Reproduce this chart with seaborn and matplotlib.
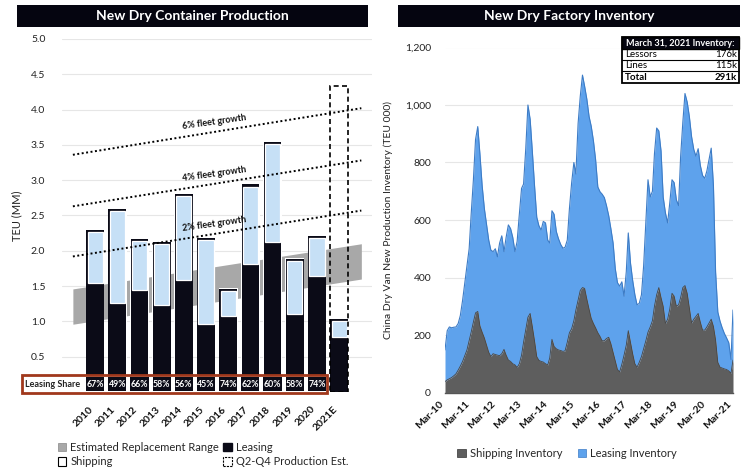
import numpy as np
import pandas as pd
import matplotlib
matplotlib.use("Agg")
import matplotlib.pyplot as plt
import seaborn as sns
from matplotlib.patches import Rectangle, Patch
from matplotlib.ticker import FuncFormatter

# ---------------- data: left chart ----------------
years = ['2010', '2011', '2012', '2013', '2014', '2015', '2016', '2017',
         '2018', '2019', '2020', '2021E']
total_prod = [2.30, 2.59, 2.17, 2.12, 2.81, 2.18, 1.46, 2.94, 3.54, 1.88, 2.21, 1.04]
leasing_prod = [1.54, 1.26, 1.44, 1.23, 1.59, 0.97, 1.08, 1.81, 2.12, 1.10, 1.64, 0.78]
leasing_share = ['67%', '49%', '66%', '58%', '56%', '45%', '74%', '62%', '60%',
                 '58%', '74%']
est_2021_full = 4.33
band_x = [-1, 12]
band_low = [0.96, 1.60]
band_high = [1.46, 2.10]
growth_labels = ['6% fleet growth', '4% fleet growth', '2% fleet growth']
growth_start = [3.36, 2.63, 1.92]
growth_end = [4.02, 3.28, 2.57]

# ---------------- data: right chart (monthly, Mar-10 .. Mar-21, TEU 000) ----------------
shipping_inv = [38, 44, 48, 52, 58, 65, 78, 92, 108, 128, 148, 180, 210, 245, 277, 282,
                232, 210, 190, 165, 140, 125, 135, 132, 130, 128, 135, 150, 130, 113,
                108, 100, 96, 87, 100, 130, 175, 220, 262, 275, 230, 180, 125, 112,
                108, 106, 100, 96, 120, 185, 160, 152, 148, 146, 143, 145, 175, 208,
                222, 250, 287, 322, 355, 365, 362, 325, 290, 258, 240, 225, 208, 195,
                180, 180, 188, 192, 170, 140, 110, 80, 72, 98, 130, 165, 215, 175,
                135, 100, 88, 105, 125, 152, 180, 210, 228, 250, 300, 340, 365, 330,
                300, 240, 255, 290, 345, 335, 300, 305, 330, 365, 372, 345, 295, 242,
                255, 265, 275, 245, 217, 217, 228, 242, 255, 230, 183, 105, 88, 85,
                82, 80, 75, 67, 113]
total_inv = [148, 215, 228, 225, 227, 228, 240, 268, 320, 380, 440, 500, 620, 739, 880,
             925, 830, 720, 640, 585, 530, 495, 490, 500, 472, 520, 545, 490, 540, 583,
             570, 540, 490, 525, 620, 710, 725, 850, 1000, 950, 840, 720, 610, 580,
             565, 595, 590, 530, 520, 632, 620, 560, 535, 515, 502, 505, 530, 640,
             730, 800, 760, 936, 1030, 1104, 1065, 1020, 960, 926, 875, 810, 715,
             698, 690, 678, 650, 615, 570, 520, 430, 382, 370, 385, 335, 420, 555,
             450, 390, 340, 305, 310, 340, 440, 590, 740, 680, 700, 830, 920, 910,
             840, 680, 625, 590, 660, 740, 730, 670, 650, 820, 940, 1040, 1010, 960,
             890, 845, 822, 848, 790, 755, 745, 770, 810, 850, 720, 420, 280, 248,
             225, 205, 190, 173, 115, 287]
inv_title = 'March 31, 2021 Inventory:'
inv_labels = ['Lessors', 'Lines', 'Total']
inv_values = ['176k', '115k', '291k']

# ---------------- style ----------------
sns.set_theme(style="white")
plt.rcParams['font.family'] = ['Lato', 'DejaVu Sans']
plt.rcParams['patch.force_edgecolor'] = False

W, H = 750, 469
fig = plt.figure(figsize=(W / 100, H / 100), dpi=100)
fig.patch.set_facecolor('white')


def fx(px):
    return px / W


def fy(py):
    return 1 - py / H


def fig_rect(x0, y0, x1, y1, **kw):
    r = Rectangle((fx(x0), fy(y1)), fx(x1) - fx(x0), fy(y0) - fy(y1),
                  transform=fig.transFigure, **kw)
    fig.add_artist(r)
    return r


NAVY = '#0b0b17'
LBLUE = '#c6e0f6'
GRAYBAND = '#a8a8a8'

# ---------------- titles ----------------
fig_rect(17, 5, 368, 27, facecolor='#050510', edgecolor='none')
fig.text(fx(192), fy(16), 'New Dry Container Production', color='white',
         fontsize=10, fontweight='bold', ha='center', va='center')
fig_rect(398, 5, 740, 27, facecolor='#050510', edgecolor='none')
fig.text(fx(569), fy(16), 'New Dry Factory Inventory', color='white',
         fontsize=10, fontweight='bold', ha='center', va='center')

# ---------------- left chart ----------------
ax1 = fig.add_axes([fx(62), fy(392), fx(372) - fx(62), fy(39) - fy(392)])
xpos = np.arange(len(years))
tp = np.array(total_prod)
lp = np.array(leasing_prod)

sns.barplot(x=years, y=total_prod, color=NAVY, width=0.80, saturation=1,
            linewidth=0, ax=ax1, zorder=3)
ax1.bar(xpos, tp + 0.02, width=0.85, color='white', linewidth=0, zorder=2)
ax1.bar(xpos, tp - lp - 0.03, bottom=lp, width=0.68, color=LBLUE,
        edgecolor='white', linewidth=0.9, zorder=4)
ax1.bar([xpos[-1]], [est_2021_full], width=0.8, fill=False, edgecolor='black',
        linestyle=(0, (3, 2)), linewidth=1.2, zorder=6)

ax1.fill_between(band_x, band_low, band_high, color=GRAYBAND, lw=0, zorder=1)

for lab, s, e in zip(growth_labels, growth_start, growth_end):
    ax1.plot(band_x, [s, e], linestyle=(0, (1, 1.3)), color='black', lw=1.4,
             zorder=7)
    xl = 5.36
    yl = s + (e - s) * (xl - band_x[0]) / (band_x[1] - band_x[0])
    ax1.annotate(lab, xy=(xl, yl), xytext=(0, 7), textcoords='offset points',
                 ha='center', va='center', rotation=8, fontsize=6.5,
                 fontweight='bold', color='#111111', zorder=8)

# leasing share strip
ax1.add_patch(Rectangle((-3.29, -0.015), 13.74, 0.255, facecolor='white',
                        edgecolor='#a0381c', lw=2, clip_on=False, zorder=9))
ax1.text(-1.9, 0.112, 'Leasing Share', ha='center', va='center', fontsize=6.5,
         fontweight='bold', color='#222222', clip_on=False, zorder=10)
for i, s in enumerate(leasing_share):
    ax1.add_patch(Rectangle((i - 0.41, 0.012), 0.82, 0.2, facecolor=NAVY,
                            edgecolor='none', clip_on=False, zorder=10))
    ax1.text(i, 0.112, s, ha='center', va='center', fontsize=6.3,
             fontweight='bold', color='white', clip_on=False, zorder=11)

ax1.set_xlim(-1.49, 12.48)
ax1.set_ylim(0, 5.0)
ax1.set_yticks(np.arange(0.5, 5.01, 0.5))
ax1.yaxis.set_major_formatter(FuncFormatter(lambda v, p: f'{v:.1f}'))
ax1.grid(axis='y', color='#e6e6e6', lw=0.8, zorder=0)
ax1.set_axisbelow(True)
for sp in ax1.spines.values():
    sp.set_visible(False)
ax1.tick_params(axis='y', length=0, pad=12, labelsize=7.5, labelcolor='#222222')
ax1.tick_params(axis='x', length=0, pad=9, labelsize=7.5, labelcolor='#111111')
ax1.set_xticks(xpos)
ax1.set_xticklabels(years, rotation=45, ha='right', fontweight='bold')
ax1.set_xlabel('')
ax1.set_ylabel('TEU (MM)', fontsize=8, color='#222222')
ax1.yaxis.set_label_coords((22 - 62) / 310, 0.5)

handles1 = [Patch(facecolor=GRAYBAND, edgecolor='#888888', lw=0.5),
            Patch(facecolor='white', edgecolor='black', lw=0.8),
            Patch(facecolor=NAVY, edgecolor=NAVY),
            Patch(facecolor='white', edgecolor='black', lw=0.8, linestyle=(0, (2, 1)))]
labels1 = ['Estimated Replacement Range', 'Shipping', 'Leasing',
           'Q2-Q4 Production Est.']
fig.legend(handles1, labels1, loc='upper left', bbox_to_anchor=(fx(58), fy(442)),
           ncol=2, frameon=False, fontsize=8, handlelength=0.75,
           handleheight=0.75, handletextpad=0.35, columnspacing=0.4,
           labelspacing=0.3, borderpad=0, borderaxespad=0)

# ---------------- right chart ----------------
ax2 = fig.add_axes([fx(445), fy(392.5), fx(733) - fx(445), fy(47.5) - fy(392.5)])
dates = pd.date_range('2010-03-01', periods=len(total_inv), freq='MS')
ship = np.array(shipping_inv)
tot = np.array(total_inv)
ax2.fill_between(dates, ship, tot, color='#5ea2ec', lw=0, zorder=2)
ax2.fill_between(dates, 0, ship, color='#5e5e5e', lw=0, zorder=3)
sns.lineplot(x=dates, y=tot, color='#3d7cc6', lw=0.8, ax=ax2, zorder=4)
sns.lineplot(x=dates, y=ship, color='#474747', lw=0.6, ax=ax2, zorder=4)

ax2.set_xlim(dates[0], dates[-1])
ax2.set_ylim(0, 1200)
ax2.set_yticks(np.arange(0, 1201, 200))
ax2.yaxis.set_major_formatter(FuncFormatter(lambda v, p: f'{int(v):,}'))
tick_dates = pd.date_range('2010-03-01', '2021-03-01', freq='12MS')
ax2.set_xticks(tick_dates)
ax2.set_xticklabels([d.strftime('%b-%y') for d in tick_dates], rotation=45,
                    ha='right', fontweight='bold')
ax2.grid(axis='y', color='#e6e6e6', lw=0.8, zorder=0)
ax2.set_axisbelow(True)
for k, sp in ax2.spines.items():
    sp.set_visible(k == 'bottom')
ax2.spines['bottom'].set_color('#555555')
ax2.spines['bottom'].set_linewidth(1)
ax2.tick_params(axis='y', length=0, pad=10, labelsize=7.5, labelcolor='#222222')
ax2.tick_params(axis='x', length=0, pad=5, labelsize=7.5, labelcolor='#111111')
ax2.set_xlabel('')
ax2.set_ylabel('China Dry Van New Production Inventory (TEU 000)', fontsize=7.5,
               color='#222222')
ax2.yaxis.set_label_coords((393 - 445) / 288, 0.5)

handles2 = [Patch(facecolor='#5e5e5e', edgecolor='#333333', lw=0.5),
            Patch(facecolor='#5ea2ec', edgecolor='#3d7cc6', lw=0.5)]
fig.legend(handles2, ['Shipping Inventory', 'Leasing Inventory'], loc='center',
           bbox_to_anchor=(fx(567), fy(453)), ncol=2, frameon=False,
           fontsize=8, handlelength=0.75, handleheight=0.75,
           handletextpad=0.35, columnspacing=1.4, borderpad=0)

# inventory inset table
fig_rect(622, 37, 739, 83, facecolor='white', edgecolor='black', lw=1.3, zorder=5)
fig_rect(622, 37, 739, 49, facecolor='#050510', edgecolor='black', lw=1.0, zorder=6)
fig.text(fx(680.5), fy(43), inv_title, color='white', fontsize=6.6,
         fontweight='bold', ha='center', va='center', zorder=7)
row_y = [54.5, 65.5, 77]
for i, (lab, val) in enumerate(zip(inv_labels, inv_values)):
    wgt = 'bold' if lab == 'Total' else 'normal'
    fig.text(fx(625), fy(row_y[i]), lab, fontsize=7, ha='left', va='center',
             fontweight=wgt, color='black', zorder=7)
    fig.text(fx(737), fy(row_y[i]), val, fontsize=7, ha='right', va='center',
             fontweight=wgt, color='black', zorder=7)
for yy in [60, 71]:
    fig.add_artist(plt.Line2D([fx(622), fx(739)], [fy(yy), fy(yy)],
                              transform=fig.transFigure, color='black', lw=0.8,
                              zorder=7))

fig.savefig('out.png', dpi=100, facecolor='white')
